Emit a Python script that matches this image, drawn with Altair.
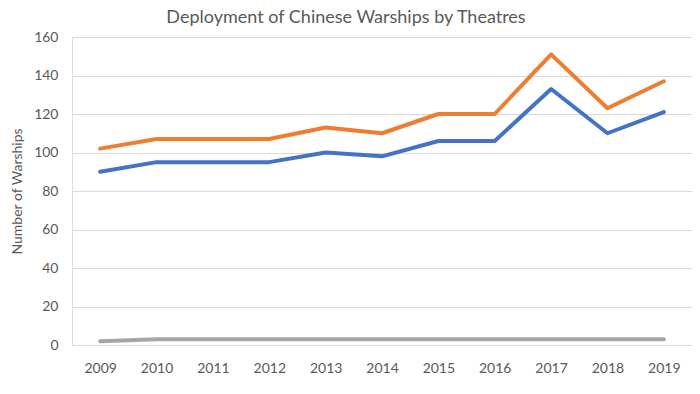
import altair as alt
import pandas as pd

years = ["2009", "2010", "2011", "2012", "2013", "2014", "2015", "2016", "2017", "2018", "2019"]
series_a = [90, 95, 95, 95, 100, 98, 106, 106, 133, 110, 121]
series_b = [102, 107, 107, 107, 113, 110, 120, 120, 151, 123, 137]
series_c = [2, 3, 3, 3, 3, 3, 3, 3, 3, 3, 3]
names = ["Series 1", "Series 2", "Series 3"]
colors = ["#4472C4", "#ED7D31", "#A5A5A5"]

rows = []
for name, vals in zip(names, [series_a, series_b, series_c]):
    for y, v in zip(years, vals):
        rows.append({"Year": y, "Series": name, "Warships": v})
df = pd.DataFrame(rows)

font = "Lato"

chart = alt.Chart(df).mark_line(strokeWidth=4, strokeCap="round", strokeJoin="round").encode(
    x=alt.X("Year:O", sort=years,
            scale=alt.Scale(type="point", padding=0.5),
            axis=alt.Axis(title=None, labelAngle=0, domain=False, ticks=False, grid=False,
                          labelPadding=16, labelFontSize=14, labelColor="#595959", labelFont=font)),
    y=alt.Y("Warships:Q",
            scale=alt.Scale(domain=[0, 160], nice=False),
            axis=alt.Axis(title="Number of Warships", values=[0, 20, 40, 60, 80, 100, 120, 140, 160],
                          domain=False, ticks=False, gridColor="#D9D9D9", gridWidth=1,
                          labelPadding=14, labelFontSize=14, labelColor="#595959", labelFont=font,
                          titleFont=font, titleFontSize=14, titleFontWeight="normal", titleColor="#595959",
                          titleX=-55, titleY=154, titleAngle=-90, titleAlign="center",
                          titleBaseline="middle")),
    color=alt.Color("Series:N", scale=alt.Scale(domain=names, range=colors), legend=None),
).properties(
    width=620,
    height=308,
    autosize=alt.AutoSizeParams(type="none"),
    padding={"left": 64, "top": 29, "right": 0, "bottom": 40},
    title=alt.TitleParams("Deployment of Chinese Warships by Theatres", font=font, fontSize=18,
                          fontWeight="normal", color="#595959", anchor="middle", frame="group",
                          offset=3, dx=-36),
).configure_view(stroke=None).configure(background="white")

chart.save("out.html", embed_options={"renderer": "svg", "actions": False})
